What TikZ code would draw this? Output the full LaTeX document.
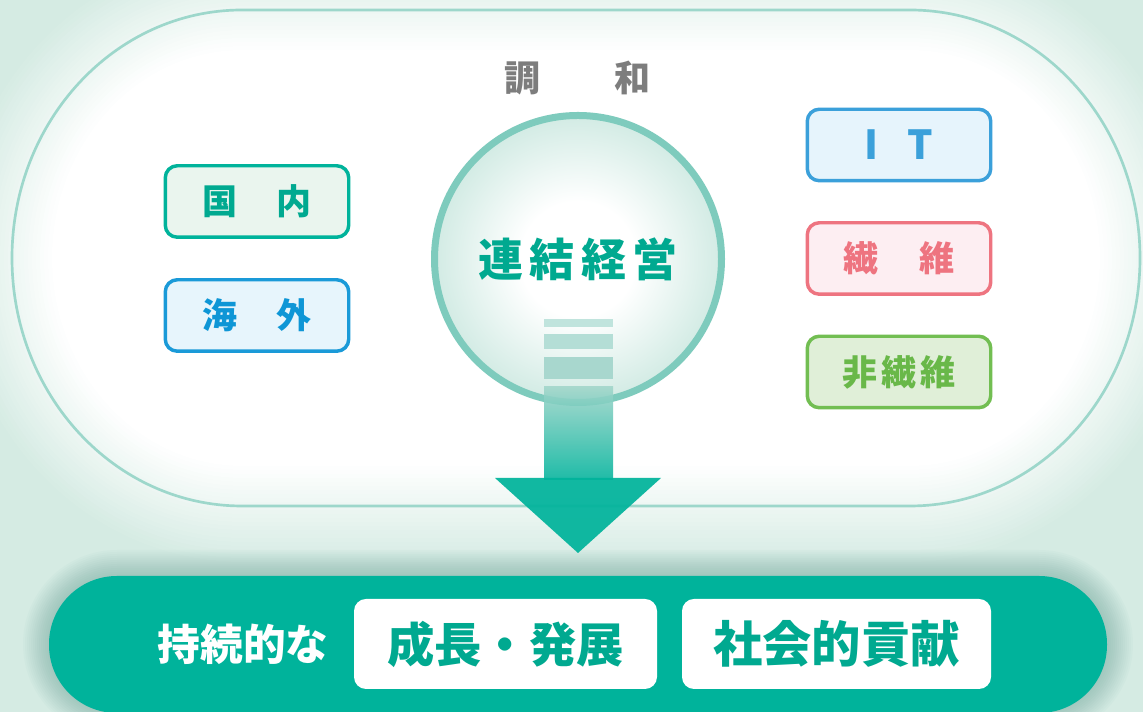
\documentclass[tikz,border=0pt]{standalone}
\usepackage{fontspec}
\setmainfont{Noto Sans CJK JP}
\definecolor{mint}{HTML}{D5EBE3}
\definecolor{rimline}{HTML}{9DD7CB}
\definecolor{brandteal}{HTML}{00B39B}
\definecolor{tealtext}{HTML}{00A990}
\definecolor{barshadow}{HTML}{3F8A7D}
\definecolor{circline}{HTML}{7ECBBD}
\definecolor{circedge}{HTML}{D2EBE4}
\definecolor{stripeA}{HTML}{C0E4DD}
\definecolor{stripeB}{HTML}{B4DED6}
\definecolor{stripeC}{HTML}{A8D7CE}
\definecolor{shafttop}{HTML}{A0D5CA}
\definecolor{harmgray}{HTML}{7D7D7D}
\definecolor{kbd}{HTML}{00B39B}\definecolor{kfl}{HTML}{EAF5EE}\definecolor{ktx}{HTML}{00A990}
\definecolor{gbd}{HTML}{1A9AD8}\definecolor{gfl}{HTML}{E7F5FC}\definecolor{gtx}{HTML}{0E96D6}
\definecolor{ibd}{HTML}{3BA0DA}\definecolor{ifl}{HTML}{E6F4FC}\definecolor{itx}{HTML}{3BA0DA}
\definecolor{sbd}{HTML}{EE7480}\definecolor{sfl}{HTML}{FDEEF2}\definecolor{stx}{HTML}{EE7480}
\definecolor{hbd}{HTML}{72BE52}\definecolor{hfl}{HTML}{E0EFD8}\definecolor{htx}{HTML}{69B849}
\pgfdeclareradialshading{circglow}{\pgfpoint{0bp}{0bp}}{color(0bp)=(white); color(10bp)=(white); color(25bp)=(circedge); color(50bp)=(circedge)}
\newcommand\stadium[1]{(242,{702-(#1)}) -- (910,{702-(#1)}) arc[start angle=90,end angle=-90,x radius={(230-(#1))*0.75pt},y radius={(248-(#1))*0.75pt}] -- (242,{206+(#1)}) arc[start angle=270,end angle=90,x radius={(230-(#1))*0.75pt},y radius={(248-(#1))*0.75pt}] -- cycle}
\tikzset{
  tag/.style={draw, line width=2.6pt, rounded corners=9pt, minimum width=137.6pt, minimum height=53.6pt, inner sep=0pt, font=\fontsize{26.25}{27}\selectfont\bfseries},
  whitebox/.style={fill=white, rounded corners=9pt, minimum height=67.5pt, inner sep=0pt, text=tealtext},
}
\begin{document}
\begin{tikzpicture}[x=0.75pt,y=0.75pt]
\useasboundingbox (0,0) rectangle (1143,712);
\begin{scope}
\clip (0,0) rectangle (1143,712);
\fill[mint] (0,0) rectangle (1143,712);
\foreach \o in {-60,-56,...,40} {\pgfmathtruncatemacro\pct{(40-\o)}\fill[mint!\pct!white] \stadium{\o};}
\draw[rimline,line width=2pt] \stadium{0};
\foreach \s in {2,4,...,26} {\fill[barshadow,opacity=0.028,rounded corners={(68+\s)*0.75pt}] (49-\s,-\s) rectangle (1107+\s,136+\s);}
\fill[brandteal,rounded corners=51pt] (49,-1) rectangle (1107,136);
\end{scope}
% core circle
\node[circle, draw=circline, line width=5.25pt, shade, shading=circglow, minimum size=215.25pt, inner sep=0pt, text=tealtext, font=\fontsize{33.75}{34}\selectfont\bfseries] (core) at (578,453) {連\kern5pt 結\kern5pt 経\kern5pt 営};
% arrow
\fill[stripeA] (544,393) rectangle (613,385);
\fill[stripeB] (544,378) rectangle (613,363);
\fill[stripeC] (544,355) rectangle (613,333);
\shade[top color=shafttop, bottom color=brandteal, fill opacity=0.88] (544,325) rectangle (613,232);
\fill[brandteal, opacity=0.93] (495,234) -- (661,234) -- (578,159) -- cycle;
% harmony label
\node[text=harmgray, font=\fontsize{27}{28}\selectfont\bfseries] (harmony) at (577.5,634) {調\kern56pt 和};
% left tags
\node[tag, draw=kbd, fill=kfl, text=ktx] (kokunai) at (257,510.5) {国\kern30pt 内};
\node[tag, draw=gbd, fill=gfl, text=gtx] (kaigai) at (257,396.5) {海\kern30pt 外};
% right tags
\node[tag, draw=ibd, fill=ifl, text=itx, font=\fontsize{30}{31}\selectfont\bfseries] (it) at (899,567) {I\kern22pt T};
\node[tag, draw=sbd, fill=sfl, text=stx] (seni) at (899,453.5) {繊\kern31pt 維};
\node[tag, draw=hbd, fill=hfl, text=htx] (hiseni) at (899,340) {非\kern3pt 繊\kern3pt 維};
% bottom bar texts
\node[text=white, font=\fontsize{32}{33}\selectfont\bfseries] (jizoku) at (243,68) {持続的な};
\node[whitebox, minimum width=227.25pt, font=\fontsize{35.5}{36}\selectfont\bfseries] (seicho) at (505.5,68) {成長・発展};
\node[whitebox, minimum width=231.75pt, font=\fontsize{37}{38}\selectfont\bfseries] (shakai) at (836.5,68) {社会的貢献};
\end{tikzpicture}
\end{document}
